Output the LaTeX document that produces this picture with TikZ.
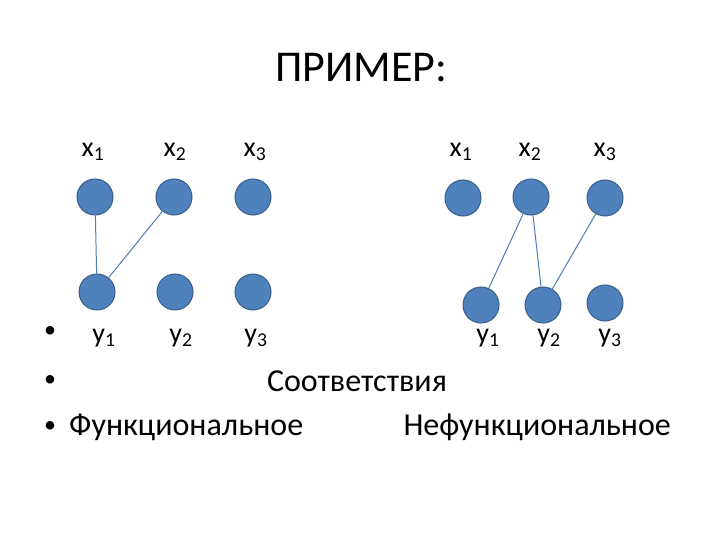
\documentclass[tikz,border=0pt]{standalone}
\usepackage{fontspec}
\setmainfont{Carlito}
\tikzset{
  vert/.style={circle,draw=vertline,fill=vertfill,line width=1pt,minimum size=36pt,inner sep=0pt},
  lab/.style={font=\fontsize{28}{32}\selectfont,inner sep=0pt},
  txt/.style={font=\fontsize{32}{38}\selectfont,inner sep=0pt},
  dot/.style={font=\fontsize{24}{28}\selectfont,inner sep=0pt},
  link/.style={draw=edgecol,line width=1pt}
}
\definecolor{vertfill}{HTML}{4F81BD}
\definecolor{vertline}{HTML}{385D8A}
\definecolor{edgecol}{HTML}{4A7EBB}
\begin{document}
\begin{tikzpicture}[x=1pt,y=-1pt]
\useasboundingbox (0,0) rectangle (720,540);

\node[font=\fontsize{44}{52}\selectfont] (title) at (361,68) {ПРИМЕР:};

% functional
\node[lab] (lx1) at (93,152) {x\textsubscript{1}};
\node[lab] (lx2) at (175,152) {x\textsubscript{2}};
\node[lab] (lx3) at (255,152) {x\textsubscript{3}};
\node[vert] (ax1) at (95,197) {};
\node[vert] (ax2) at (174,197) {};
\node[vert] (ax3) at (253,197) {};
\node[vert] (ay1) at (97,292) {};
\node[vert] (ay2) at (175,292) {};
\node[vert] (ay3) at (253,292) {};
\node[lab] (ly1) at (104,338) {y\textsubscript{1}};
\node[lab] (ly2) at (181,338) {y\textsubscript{2}};
\node[lab] (ly3) at (256,338) {y\textsubscript{3}};
\draw[link] (ax1) -- (ay1);
\draw[link] (ax2) -- (ay1);

% non-functional
\node[lab] (rx1) at (461,152) {x\textsubscript{1}};
\node[lab] (rx2) at (530,152) {x\textsubscript{2}};
\node[lab] (rx3) at (605,152) {x\textsubscript{3}};
\node[vert] (bx1) at (463,198) {};
\node[vert] (bx2) at (531,197) {};
\node[vert] (bx3) at (605,198) {};
\node[vert] (by1) at (481,305) {};
\node[vert] (by2) at (543,305) {};
\node[vert] (by3) at (605,303) {};
\node[lab] (ry1) at (488,338) {y\textsubscript{1}};
\node[lab] (ry2) at (549,338) {y\textsubscript{2}};
\node[lab] (ry3) at (610,338) {y\textsubscript{3}};
\draw[link] (bx2) -- (by1);
\draw[link] (bx2) -- (by2);
\draw[link] (bx3) -- (by2);

% bullets
\node[dot] (b1) at (50,332) {•};
\node[dot] (b2) at (50,381) {•};
\node[dot] (b3) at (50,427) {•};
\node[txt] (corr) at (357,381) {Соответствия};
\node[txt,anchor=west] (func) at (69,427) {Функциональное};
\node[txt,anchor=east] (nfunc) at (671,427) {Нефункциональное};
\end{tikzpicture}
\end{document}
